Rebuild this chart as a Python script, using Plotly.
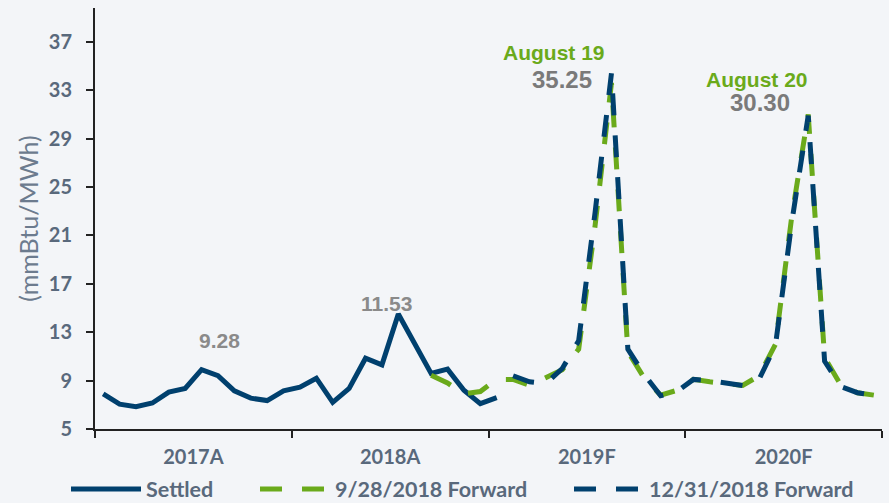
import pandas as pd
import plotly.graph_objects as go

# monthly categories, Jan 2017 .. Dec 2020
months = pd.date_range("2017-01-01", periods=48, freq="MS").strftime("%b-%y").tolist()
year_labels = ["2017A", "2018A", "2019F", "2020F"]
y_ticks = [5, 9, 13, 17, 21, 25, 29, 33, 37]

# settled prices (Jan-17 .. Jan-19)
settled_months = months[0:25]
settled = [7.9, 7.05, 6.85, 7.15, 8.05, 8.35, 9.9, 9.4, 8.15, 7.55, 7.35, 8.15,
           8.45, 9.2, 7.2, 8.35, 10.85, 10.3, 14.5, 11.95, 9.6, 9.95, 8.2, 7.1,
           7.6]

# forward curve as of 9/28/2018 (Sep-18 .. Dec-20)
fwd_0928_months = months[20:48]
fwd_0928 = [9.45, 8.8, 7.9, 8.1, 9.1, 9.1, 8.6, 9.2, 9.9, 11.6, 21.8, 33.6,
            11.4, 9.2, 7.8, 8.2, 9.1, 8.9, 8.7, 8.6, 9.4, 12.0, 22.6, 31.0,
            10.9, 8.6, 8.0, 7.8]

# forward curve as of 12/31/2018 (Feb-19 .. Dec-20)
fwd_1231_months = months[25:48]
fwd_1231 = [9.4, 8.9, 8.75, 10.0, 12.3, 22.9, 34.4, 11.6, 9.5, 7.75, 8.1,
            9.1, 9.0, 8.75, 8.6, 9.1, 11.9, 22.1, 30.9, 10.6, 8.5, 8.0, 7.8]

pos = {m: i + 0.5 for i, m in enumerate(months)}

navy = "#00406e"
green = "#6aaa1b"
axis_txt = "#59697c"
bg = "#f3f5f8"

fig = go.Figure()
fig.add_trace(go.Scatter(x=[pos[m] for m in settled_months], y=settled,
                         mode="lines", name="Settled", legend="legend",
                         line=dict(color=navy, width=5)))
fig.add_trace(go.Scatter(x=[pos[m] for m in fwd_0928_months], y=fwd_0928,
                         mode="lines", name="9/28/2018 Forward", legend="legend2",
                         line=dict(color=green, width=5, dash="22px,20px")))
fig.add_trace(go.Scatter(x=[pos[m] for m in fwd_1231_months], y=fwd_1231,
                         mode="lines", name="12/31/2018 Forward", legend="legend3",
                         line=dict(color=navy, width=5, dash="22px,20px")))

notes = [
    ("9.28", 7.6, 12.35, "#8a8a8a", 21),
    ("11.53", 17.8, 15.4, "#8a8a8a", 21),
    ("August 19", 27.98, 36.15, green, 21),
    ("35.25", 28.5, 33.85, "#7a7a7a", 24),
    ("August 20", 40.4, 33.85, green, 21),
    ("30.30", 40.55, 31.95, "#7a7a7a", 24),
]
for txt, xx, yy, col, sz in notes:
    fig.add_annotation(text="<b>" + txt + "</b>", x=xx, y=yy, showarrow=False,
                       xanchor="center", yanchor="middle",
                       font=dict(family="Liberation Sans", size=sz, color=col))

fig.add_annotation(text="(mmBtu/MWh)", xref="paper", yref="paper",
                   x=-0.086, y=0.5, textangle=-90, showarrow=False,
                   xanchor="center", yanchor="middle",
                   font=dict(family="Lato", size=25, color="#6c7b8e"))

leg = dict(orientation="h", xref="container", yref="container", yanchor="middle",
           y=1 - 489 / 503, bgcolor="rgba(0,0,0,0)", itemwidth=70,
           font=dict(family="Lato", size=21.5, color=axis_txt, weight="bold"))

fig.update_layout(
    width=889, height=503,
    margin=dict(l=95, r=7, t=8, b=74, autoexpand=False),
    paper_bgcolor=bg, plot_bgcolor=bg,
    showlegend=True,
    legend=dict(leg, x=66 / 889),
    legend2=dict(leg, x=255 / 889),
    legend3=dict(leg, x=569 / 889),
    xaxis=dict(range=[0, 48], showgrid=False, zeroline=False, automargin=False,
               showline=True, linecolor="#222", linewidth=2,
               tickvals=[6, 18, 30, 42], ticktext=year_labels, ticks="",
               ticklabelstandoff=9,
               minor=dict(tick0=0, dtick=12, ticks="outside", ticklen=7,
                          tickwidth=2, tickcolor="#222"),
               tickfont=dict(family="Lato", size=20, color=axis_txt, weight="bold")),
    yaxis=dict(range=[5, 39.8], showgrid=False, zeroline=False, automargin=False,
               showline=True, linecolor="#222", linewidth=2,
               tickvals=y_ticks, ticks="outside", ticklen=7, tickwidth=2,
               tickcolor="#222", ticklabelstandoff=10,
               tickfont=dict(family="Lato", size=20, color=axis_txt, weight="bold")),
)

# the page's default body margin would push the chart 8px right and down
fig.write_html("out.html", config={"displayModeBar": False},
               post_script="document.body.style.margin = '0px';")
